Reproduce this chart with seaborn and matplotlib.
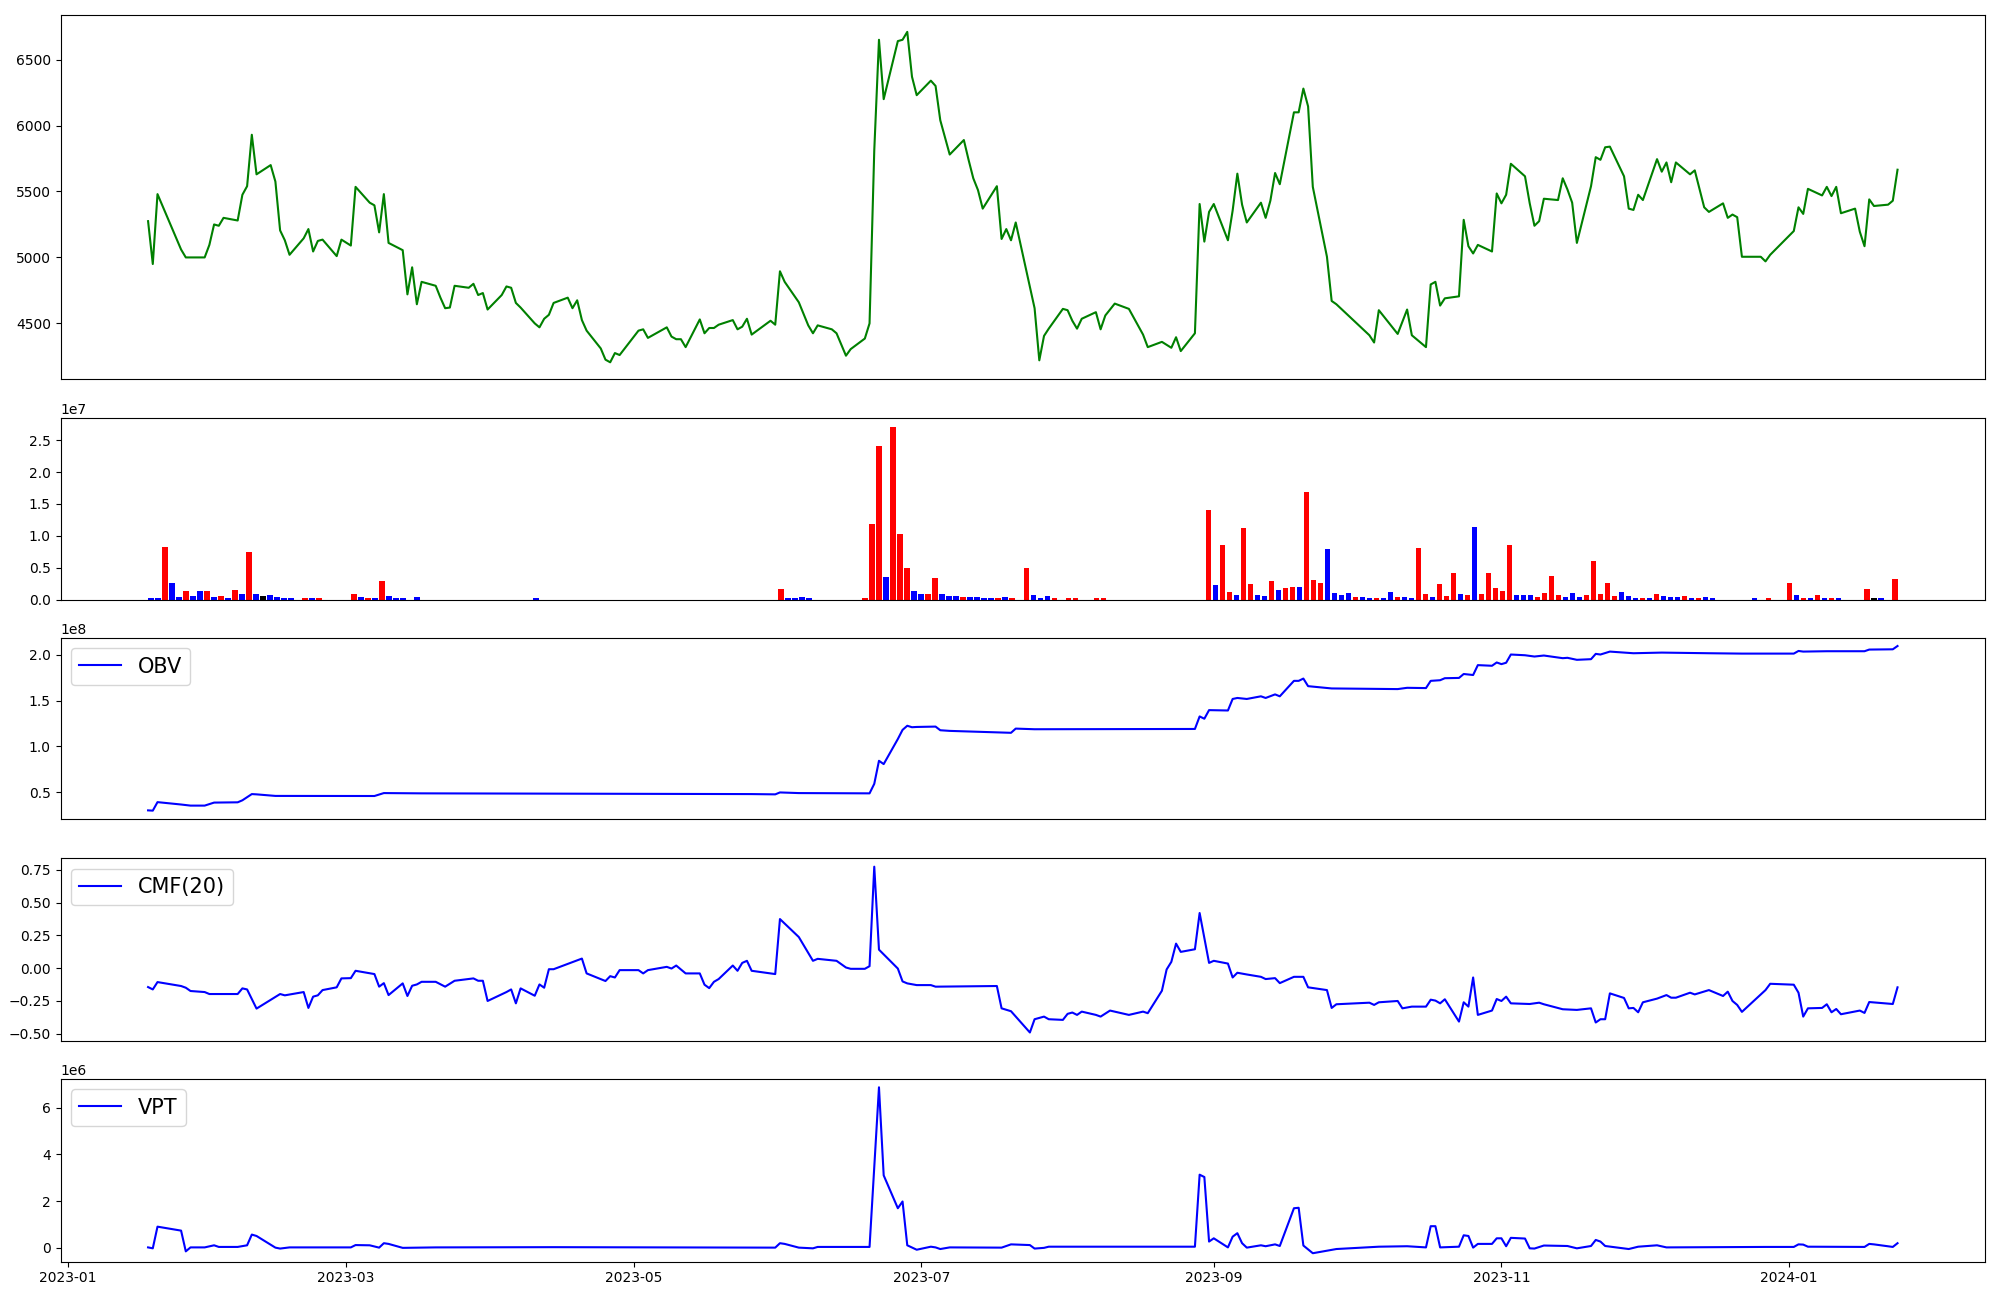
import matplotlib
matplotlib.use("Agg")
import matplotlib.pyplot as plt
import matplotlib.dates as mdates
import seaborn as sns
import pandas as pd
import numpy as np

# ---------------- price (close) ----------------
price_dates = [
    "2023-01-18", "2023-01-19", "2023-01-20", "2023-01-25", "2023-01-26", "2023-01-27", "2023-01-30", "2023-01-31",
    "2023-02-01", "2023-02-02", "2023-02-03", "2023-02-06", "2023-02-07", "2023-02-08", "2023-02-09", "2023-02-10",
    "2023-02-13", "2023-02-14", "2023-02-15", "2023-02-16", "2023-02-17", "2023-02-20", "2023-02-21", "2023-02-22",
    "2023-02-23", "2023-02-24", "2023-02-27", "2023-02-28", "2023-03-02", "2023-03-03", "2023-03-06", "2023-03-07",
    "2023-03-08", "2023-03-09", "2023-03-10", "2023-03-13", "2023-03-14", "2023-03-15", "2023-03-16", "2023-03-17",
    "2023-03-20", "2023-03-21", "2023-03-22", "2023-03-23", "2023-03-24", "2023-03-27", "2023-03-28", "2023-03-29",
    "2023-03-30", "2023-03-31", "2023-04-03", "2023-04-04", "2023-04-05", "2023-04-06", "2023-04-07", "2023-04-10",
    "2023-04-11", "2023-04-12", "2023-04-13", "2023-04-14", "2023-04-17", "2023-04-18", "2023-04-19", "2023-04-20",
    "2023-04-21", "2023-04-24", "2023-04-25", "2023-04-26", "2023-04-27", "2023-04-28", "2023-05-02", "2023-05-03",
    "2023-05-04", "2023-05-08", "2023-05-09", "2023-05-10", "2023-05-11", "2023-05-12", "2023-05-15", "2023-05-16",
    "2023-05-17", "2023-05-18", "2023-05-19", "2023-05-22", "2023-05-23", "2023-05-24", "2023-05-25", "2023-05-26",
    "2023-05-30", "2023-05-31", "2023-06-01", "2023-06-02", "2023-06-05", "2023-06-07", "2023-06-08", "2023-06-09",
    "2023-06-12", "2023-06-13", "2023-06-14", "2023-06-15", "2023-06-16", "2023-06-19", "2023-06-20", "2023-06-21",
    "2023-06-22", "2023-06-23", "2023-06-26", "2023-06-27", "2023-06-28", "2023-06-29", "2023-06-30", "2023-07-03",
    "2023-07-04", "2023-07-05", "2023-07-06", "2023-07-07", "2023-07-10", "2023-07-11", "2023-07-12", "2023-07-13",
    "2023-07-14", "2023-07-17", "2023-07-18", "2023-07-19", "2023-07-20", "2023-07-21", "2023-07-25", "2023-07-26",
    "2023-07-27", "2023-07-28", "2023-07-31", "2023-08-01", "2023-08-02", "2023-08-03", "2023-08-04", "2023-08-07",
    "2023-08-08", "2023-08-09", "2023-08-11", "2023-08-14", "2023-08-17", "2023-08-18", "2023-08-21", "2023-08-23",
    "2023-08-24", "2023-08-25", "2023-08-28", "2023-08-29", "2023-08-30", "2023-08-31", "2023-09-01", "2023-09-04",
    "2023-09-05", "2023-09-06", "2023-09-07", "2023-09-08", "2023-09-11", "2023-09-12", "2023-09-13", "2023-09-14",
    "2023-09-15", "2023-09-18", "2023-09-19", "2023-09-20", "2023-09-21", "2023-09-22", "2023-09-25", "2023-09-26",
    "2023-09-27", "2023-10-04", "2023-10-05", "2023-10-06", "2023-10-10", "2023-10-12", "2023-10-13", "2023-10-16",
    "2023-10-17", "2023-10-18", "2023-10-19", "2023-10-20", "2023-10-23", "2023-10-24", "2023-10-25", "2023-10-26",
    "2023-10-27", "2023-10-30", "2023-10-31", "2023-11-01", "2023-11-02", "2023-11-03", "2023-11-06", "2023-11-07",
    "2023-11-08", "2023-11-09", "2023-11-10", "2023-11-13", "2023-11-14", "2023-11-15", "2023-11-16", "2023-11-17",
    "2023-11-20", "2023-11-21", "2023-11-22", "2023-11-23", "2023-11-24", "2023-11-27", "2023-11-28", "2023-11-29",
    "2023-11-30", "2023-12-01", "2023-12-04", "2023-12-05", "2023-12-06", "2023-12-07", "2023-12-08", "2023-12-11",
    "2023-12-12", "2023-12-14", "2023-12-15", "2023-12-18", "2023-12-19", "2023-12-20", "2023-12-21", "2023-12-22",
    "2023-12-26", "2023-12-27", "2023-12-28", "2024-01-02", "2024-01-03", "2024-01-04", "2024-01-05", "2024-01-08",
    "2024-01-09", "2024-01-10", "2024-01-11", "2024-01-12", "2024-01-15", "2024-01-16", "2024-01-17", "2024-01-18",
    "2024-01-19", "2024-01-22", "2024-01-23", "2024-01-24",
]
price_vals = [
    5275, 4950, 5480, 5060, 5000, 5000, 5000, 5095,
    5250, 5240, 5300, 5280, 5475, 5540, 5930, 5630,
    5700, 5575, 5205, 5130, 5020, 5145, 5215, 5045,
    5125, 5135, 5010, 5135, 5090, 5535, 5415, 5395,
    5190, 5480, 5110, 5055, 4720, 4925, 4645, 4815,
    4785, 4695, 4615, 4620, 4785, 4770, 4800, 4715,
    4730, 4605, 4715, 4780, 4770, 4655, 4620, 4500,
    4470, 4535, 4565, 4655, 4695, 4615, 4675, 4525,
    4445, 4310, 4225, 4205, 4275, 4260, 4445, 4455,
    4390, 4470, 4400, 4380, 4380, 4320, 4530, 4425,
    4465, 4465, 4490, 4525, 4455, 4475, 4535, 4415,
    4520, 4490, 4895, 4815, 4660, 4485, 4425, 4485,
    4455, 4425, 4340, 4255, 4305, 4385, 4500, 5810,
    6650, 6200, 6640, 6650, 6710, 6370, 6230, 6340,
    6300, 6040, 5910, 5780, 5890, 5740, 5600, 5510,
    5370, 5540, 5140, 5215, 5130, 5265, 4615, 4220,
    4405, 4460, 4610, 4600, 4520, 4460, 4535, 4585,
    4455, 4560, 4650, 4610, 4415, 4320, 4360, 4315,
    4395, 4290, 4425, 5405, 5120, 5345, 5405, 5130,
    5355, 5635, 5400, 5265, 5415, 5300, 5430, 5640,
    5555, 6100, 6100, 6280, 6145, 5535, 5005, 4670,
    4645, 4410, 4355, 4600, 4420, 4605, 4410, 4320,
    4795, 4815, 4635, 4690, 4705, 5285, 5085, 5030,
    5095, 5045, 5485, 5410, 5475, 5710, 5615, 5410,
    5240, 5275, 5445, 5435, 5600, 5515, 5415, 5110,
    5540, 5760, 5740, 5835, 5840, 5615, 5370, 5360,
    5475, 5435, 5745, 5650, 5720, 5570, 5720, 5630,
    5660, 5380, 5345, 5410, 5300, 5325, 5305, 5005,
    5005, 4970, 5020, 5200, 5380, 5330, 5520, 5470,
    5535, 5465, 5535, 5335, 5370, 5195, 5085, 5440,
    5390, 5400, 5430, 5665,
]

# ---------------- volume bars (bar index, value, colour) ----------------
n_days = 250
vol_idx = [0, 1, 2, 3, 4, 5, 6, 7, 8, 9, 10, 11, 12, 13, 14, 15, 16, 17, 18, 19, 20, 22, 23, 24,
           29, 30, 31, 32, 33, 34, 35, 36, 38, 55,
           90, 91, 92, 93, 94, 102, 103, 104, 105, 106, 107, 108, 109, 110, 111, 112, 113, 114, 115,
           116, 117, 118, 119, 120, 121, 122, 123, 125, 126, 127, 128, 129, 131, 132, 135, 136,
           151, 152, 153, 154, 155, 156, 157, 158, 159, 160, 161, 162, 163, 164, 165, 166, 167, 168,
           169, 170, 171, 172, 173, 174, 175, 176, 177, 178, 179, 180, 181, 182, 183, 184, 185, 186,
           187, 188, 189, 190, 191, 192, 193, 194, 195, 196, 197, 198, 199, 200, 201, 202, 203, 204,
           205, 206, 207, 208, 209, 210, 211, 212, 213, 214, 215, 216, 217, 218, 219, 220, 221, 222,
           223, 229, 231, 234, 235, 236, 237, 238, 239, 240, 241, 245, 246, 247, 249]
vol_val = [0.30, 0.30, 8.3, 2.55, 0.36, 1.3, 0.52, 1.3, 1.3, 0.36, 0.52, 0.2, 1.46, 0.83, 7.4, 0.83, 0.52, 0.68, 0.36, 0.2, 0.2, 0.2, 0.2, 0.2,
           0.83, 0.36, 0.2, 0.2, 2.86, 0.52, 0.2, 0.2, 0.36, 0.2,
           1.61, 0.2, 0.2, 0.36, 0.2, 0.2, 11.9, 24.1, 3.49, 27.05, 10.35, 4.89, 1.3, 0.83, 0.83, 3.33, 0.83, 0.52, 0.52,
           0.36, 0.36, 0.36, 0.2, 0.2, 0.2, 0.36, 0.2, 4.89, 0.68, 0.2, 0.52, 0.2, 0.2, 0.2, 0.2, 0.2,
           14.1, 2.24, 8.48, 1.14, 0.68, 11.29, 2.39, 0.68, 0.52, 2.86, 1.46, 1.77, 1.93, 1.93, 16.91, 3.02, 2.55, 7.86,
           0.99, 0.68, 0.99, 0.36, 0.36, 0.2, 0.2, 0.2, 1.14, 0.36, 0.36, 0.2, 8.01, 0.83, 0.36, 2.39, 0.52, 4.11,
           0.83, 0.68, 11.45, 0.83, 4.11, 1.77, 1.3, 8.48, 0.68, 0.68, 0.68, 0.36, 0.99, 3.64, 0.68, 0.36, 0.99, 0.36,
           0.68, 5.98, 0.83, 2.55, 0.52, 1.14, 0.52, 0.2, 0.2, 0.2, 0.83, 0.52, 0.36, 0.36, 0.52, 0.2, 0.2, 0.36,
           0.2, 0.2, 0.2, 2.55, 0.68, 0.2, 0.2, 0.68, 0.2, 0.2, 0.2, 1.61, 0.2, 0.2, 3.17]
vol_col = ["blue", "blue", "red", "blue", "blue", "red", "blue", "blue", "red", "blue", "red", "blue", "red", "blue", "red", "blue", "black", "blue", "blue", "blue", "blue", "red", "blue", "red",
           "red", "blue", "red", "blue", "red", "blue", "blue", "blue", "blue", "blue",
           "red", "blue", "blue", "blue", "blue", "red", "red", "red", "blue", "red", "red", "red", "blue", "blue", "red", "red", "blue", "blue", "blue",
           "red", "blue", "blue", "blue", "blue", "red", "blue", "red", "red", "blue", "blue", "blue", "red", "red", "red", "red", "red",
           "red", "blue", "red", "red", "blue", "red", "red", "blue", "blue", "red", "blue", "red", "red", "blue", "red", "red", "red", "blue",
           "blue", "blue", "blue", "red", "blue", "blue", "red", "blue", "blue", "red", "blue", "blue", "red", "red", "blue", "red", "red", "red",
           "blue", "red", "blue", "red", "red", "red", "red", "red", "blue", "blue", "blue", "red", "red", "red", "red", "blue", "blue", "blue",
           "red", "red", "red", "red", "red", "blue", "blue", "blue", "red", "blue", "red", "blue", "blue", "blue", "red", "blue", "red", "blue",
           "blue", "blue", "red", "red", "blue", "red", "blue", "red", "blue", "red", "blue", "red", "black", "blue", "red"]
vol_scale = 1e6  # vol_val is in millions of shares

# ---------------- OBV ----------------
obv_dates = [
    "2023-01-18", "2023-01-19", "2023-01-20", "2023-01-25", "2023-01-27", "2023-01-30", "2023-02-01", "2023-02-06",
    "2023-02-07", "2023-02-09", "2023-02-10", "2023-02-14", "2023-03-07", "2023-03-09", "2023-03-17", "2023-05-26",
    "2023-05-31", "2023-06-01", "2023-06-05", "2023-06-20", "2023-06-21", "2023-06-22", "2023-06-23", "2023-06-26",
    "2023-06-27", "2023-06-28", "2023-06-29", "2023-06-30", "2023-07-04", "2023-07-05", "2023-07-07", "2023-07-20",
    "2023-07-21", "2023-07-25", "2023-08-28", "2023-08-29", "2023-08-30", "2023-08-31", "2023-09-04", "2023-09-05",
    "2023-09-06", "2023-09-08", "2023-09-11", "2023-09-12", "2023-09-14", "2023-09-15", "2023-09-18", "2023-09-19",
    "2023-09-20", "2023-09-21", "2023-09-26", "2023-10-10", "2023-10-12", "2023-10-16", "2023-10-17", "2023-10-19",
    "2023-10-20", "2023-10-23", "2023-10-24", "2023-10-26", "2023-10-27", "2023-10-30", "2023-10-31", "2023-11-01",
    "2023-11-02", "2023-11-03", "2023-11-06", "2023-11-08", "2023-11-10", "2023-11-14", "2023-11-15", "2023-11-17",
    "2023-11-20", "2023-11-21", "2023-11-22", "2023-11-24", "2023-11-29", "2023-12-05", "2023-12-15", "2023-12-22",
    "2024-01-02", "2024-01-03", "2024-01-04", "2024-01-09", "2024-01-17", "2024-01-18", "2024-01-23", "2024-01-24",
]
obv_vals = [
    0.300, 0.297, 0.390, 0.364, 0.352, 0.352, 0.385, 0.388,
    0.410, 0.478, 0.475, 0.458, 0.457, 0.489, 0.486, 0.478,
    0.475, 0.496, 0.489, 0.486, 0.590, 0.842, 0.806, 1.080,
    1.180, 1.225, 1.209, 1.212, 1.216, 1.176, 1.169, 1.148,
    1.194, 1.187, 1.190, 1.327, 1.302, 1.396, 1.392, 1.518,
    1.529, 1.518, 1.547, 1.529, 1.568, 1.547, 1.716, 1.716,
    1.741, 1.658, 1.633, 1.626, 1.640, 1.637, 1.716, 1.723,
    1.745, 1.748, 1.791, 1.780, 1.888, 1.881, 1.917, 1.899,
    1.914, 2.004, 1.996, 1.982, 1.993, 1.964, 1.968, 1.946,
    1.953, 2.011, 2.004, 2.036, 2.018, 2.025, 2.018, 2.014,
    2.014, 2.043, 2.036, 2.040, 2.040, 2.058, 2.061, 2.097,
]
obv_scale = 1e8

# ---------------- CMF(20) ----------------
cmf_dates = [
    "2023-01-18", "2023-01-19", "2023-01-20", "2023-01-25", "2023-01-26", "2023-01-27", "2023-01-30", "2023-01-31",
    "2023-02-06", "2023-02-07", "2023-02-08", "2023-02-10", "2023-02-15", "2023-02-16", "2023-02-20", "2023-02-21",
    "2023-02-22", "2023-02-23", "2023-02-24", "2023-02-27", "2023-02-28", "2023-03-02", "2023-03-03", "2023-03-07",
    "2023-03-08", "2023-03-09", "2023-03-10", "2023-03-13", "2023-03-14", "2023-03-15", "2023-03-16", "2023-03-17",
    "2023-03-20", "2023-03-22", "2023-03-24", "2023-03-28", "2023-03-29", "2023-03-30", "2023-03-31", "2023-04-04",
    "2023-04-05", "2023-04-06", "2023-04-07", "2023-04-10", "2023-04-11", "2023-04-12", "2023-04-13", "2023-04-14",
    "2023-04-20", "2023-04-21", "2023-04-25", "2023-04-26", "2023-04-27", "2023-04-28", "2023-05-02", "2023-05-03",
    "2023-05-04", "2023-05-08", "2023-05-09", "2023-05-10", "2023-05-12", "2023-05-15", "2023-05-16", "2023-05-17",
    "2023-05-18", "2023-05-19", "2023-05-22", "2023-05-23", "2023-05-24", "2023-05-25", "2023-05-26", "2023-05-31",
    "2023-06-01", "2023-06-05", "2023-06-08", "2023-06-09", "2023-06-13", "2023-06-15", "2023-06-16", "2023-06-19",
    "2023-06-20", "2023-06-21", "2023-06-22", "2023-06-26", "2023-06-27", "2023-06-28", "2023-06-30", "2023-07-03",
    "2023-07-04", "2023-07-17", "2023-07-18", "2023-07-20", "2023-07-24", "2023-07-25", "2023-07-27", "2023-07-28",
    "2023-07-31", "2023-08-01", "2023-08-02", "2023-08-03", "2023-08-04", "2023-08-07", "2023-08-08", "2023-08-10",
    "2023-08-14", "2023-08-17", "2023-08-18", "2023-08-21", "2023-08-22", "2023-08-23", "2023-08-24", "2023-08-25",
    "2023-08-28", "2023-08-29", "2023-08-31", "2023-09-01", "2023-09-04", "2023-09-05", "2023-09-06", "2023-09-08",
    "2023-09-11", "2023-09-12", "2023-09-14", "2023-09-15", "2023-09-18", "2023-09-20", "2023-09-21", "2023-09-25",
    "2023-09-26", "2023-09-27", "2023-10-04", "2023-10-05", "2023-10-06", "2023-10-10", "2023-10-11", "2023-10-13",
    "2023-10-16", "2023-10-17", "2023-10-18", "2023-10-19", "2023-10-20", "2023-10-23", "2023-10-24", "2023-10-25",
    "2023-10-26", "2023-10-27", "2023-10-30", "2023-10-31", "2023-11-01", "2023-11-02", "2023-11-03", "2023-11-07",
    "2023-11-09", "2023-11-10", "2023-11-14", "2023-11-17", "2023-11-20", "2023-11-21", "2023-11-22", "2023-11-23",
    "2023-11-24", "2023-11-27", "2023-11-28", "2023-11-29", "2023-11-30", "2023-12-01", "2023-12-04", "2023-12-06",
    "2023-12-07", "2023-12-08", "2023-12-11", "2023-12-12", "2023-12-15", "2023-12-18", "2023-12-19", "2023-12-20",
    "2023-12-21", "2023-12-22", "2023-12-27", "2023-12-28", "2024-01-02", "2024-01-03", "2024-01-04", "2024-01-05",
    "2024-01-08", "2024-01-09", "2024-01-10", "2024-01-11", "2024-01-12", "2024-01-16", "2024-01-17", "2024-01-18",
    "2024-01-23", "2024-01-24",
]
cmf_vals = [
    -0.144, -0.162, -0.106, -0.136, -0.149, -0.174, -0.182, -0.197,
    -0.197, -0.154, -0.162, -0.308, -0.197, -0.207, -0.182, -0.303,
    -0.217, -0.207, -0.167, -0.146, -0.078, -0.076, -0.020, -0.045,
    -0.141, -0.114, -0.205, -0.116, -0.212, -0.134, -0.124, -0.104,
    -0.104, -0.141, -0.096, -0.078, -0.096, -0.096, -0.250, -0.182,
    -0.162, -0.268, -0.154, -0.210, -0.124, -0.149, -0.008, -0.008,
    0.073, -0.040, -0.098, -0.061, -0.071, -0.015, -0.015, -0.040,
    -0.015, 0.010, -0.003, 0.020, -0.040, -0.040, -0.126, -0.152,
    -0.104, -0.083, 0.020, -0.020, 0.040, 0.056, -0.020, -0.045,
    0.374, 0.237, 0.056, 0.071, 0.056, 0.005, -0.005, -0.005,
    0.015, 0.773, 0.141, -0.003, -0.101, -0.116, -0.129, -0.129,
    -0.141, -0.136, -0.306, -0.328, -0.490, -0.389, -0.369, -0.389,
    -0.394, -0.348, -0.338, -0.356, -0.331, -0.356, -0.369, -0.323,
    -0.356, -0.331, -0.343, -0.172, -0.010, 0.048, 0.187, 0.124,
    0.144, 0.420, 0.040, 0.056, 0.035, -0.071, -0.035, -0.048,
    -0.066, -0.083, -0.076, -0.114, -0.066, -0.066, -0.146, -0.167,
    -0.303, -0.275, -0.263, -0.280, -0.260, -0.250, -0.306, -0.293,
    -0.293, -0.240, -0.247, -0.268, -0.237, -0.407, -0.260, -0.293,
    -0.071, -0.356, -0.323, -0.235, -0.250, -0.217, -0.268, -0.273,
    -0.263, -0.275, -0.313, -0.318, -0.306, -0.414, -0.389, -0.389,
    -0.192, -0.227, -0.306, -0.303, -0.336, -0.260, -0.232, -0.205,
    -0.225, -0.225, -0.187, -0.200, -0.167, -0.212, -0.179, -0.250,
    -0.280, -0.333, -0.167, -0.119, -0.126, -0.187, -0.369, -0.306,
    -0.303, -0.275, -0.336, -0.311, -0.351, -0.323, -0.341, -0.258,
    -0.273, -0.146,
]

# ---------------- VPT ----------------
vpt_dates = [
    "2023-01-18", "2023-01-19", "2023-01-20", "2023-01-25", "2023-01-26", "2023-01-27", "2023-01-30", "2023-02-01",
    "2023-02-02", "2023-02-06", "2023-02-08", "2023-02-09", "2023-02-10", "2023-02-14", "2023-02-15", "2023-02-17",
    "2023-03-02", "2023-03-03", "2023-03-06", "2023-03-08", "2023-03-09", "2023-03-10", "2023-03-13", "2023-03-20",
    "2023-04-14", "2023-05-31", "2023-06-01", "2023-06-02", "2023-06-05", "2023-06-08", "2023-06-09", "2023-06-20",
    "2023-06-22", "2023-06-23", "2023-06-26", "2023-06-27", "2023-06-28", "2023-06-30", "2023-07-03", "2023-07-04",
    "2023-07-05", "2023-07-07", "2023-07-18", "2023-07-20", "2023-07-24", "2023-07-25", "2023-07-27", "2023-07-28",
    "2023-08-28", "2023-08-29", "2023-08-30", "2023-08-31", "2023-09-01", "2023-09-04", "2023-09-05", "2023-09-06",
    "2023-09-07", "2023-09-08", "2023-09-11", "2023-09-12", "2023-09-14", "2023-09-15", "2023-09-18", "2023-09-19",
    "2023-09-20", "2023-09-22", "2023-09-27", "2023-10-06", "2023-10-12", "2023-10-16", "2023-10-17", "2023-10-18",
    "2023-10-19", "2023-10-23", "2023-10-24", "2023-10-25", "2023-10-26", "2023-10-27", "2023-10-30", "2023-10-31",
    "2023-11-01", "2023-11-02", "2023-11-03", "2023-11-06", "2023-11-07", "2023-11-08", "2023-11-10", "2023-11-15",
    "2023-11-17", "2023-11-20", "2023-11-21", "2023-11-22", "2023-11-23", "2023-11-28", "2023-11-30", "2023-12-04",
    "2023-12-06", "2023-12-27", "2024-01-02", "2024-01-03", "2024-01-04", "2024-01-05", "2024-01-17", "2024-01-18",
    "2024-01-19", "2024-01-23", "2024-01-24",
]
vpt_vals = [
    0.01, -0.03, 0.90, 0.73, -0.16, 0.01, 0.01, 0.10,
    0.03, 0.03, 0.10, 0.56, 0.50, 0.00, -0.04, 0.01,
    0.01, 0.11, 0.10, 0.00, 0.19, 0.16, -0.01, 0.01,
    0.02, 0.00, 0.19, 0.16, 0.00, -0.03, 0.03, 0.03,
    6.88, 3.10, 1.69, 1.98, 0.10, -0.09, 0.04, 0.01,
    -0.06, 0.01, 0.00, 0.14, 0.11, -0.04, -0.01, 0.04,
    0.04, 3.13, 3.03, 0.26, 0.40, 0.01, 0.47, 0.62,
    0.19, 0.00, 0.10, 0.06, 0.14, 0.07, 1.69, 1.71,
    0.09, -0.24, -0.06, 0.04, 0.06, 0.01, 0.92, 0.92,
    0.01, 0.04, 0.53, 0.50, 0.00, 0.16, 0.16, 0.40,
    0.40, 0.06, 0.42, 0.39, -0.03, -0.04, 0.09, 0.07,
    -0.03, 0.07, 0.33, 0.26, 0.07, -0.06, 0.04, 0.10,
    0.01, 0.03, 0.03, 0.14, 0.13, 0.04, 0.03, 0.16,
    0.14, 0.03, 0.19,
]
vpt_scale = 1e6

# ---------------- build frames ----------------
df_price = pd.DataFrame({"date": pd.to_datetime(price_dates), "close": price_vals})
df_obv = pd.DataFrame({"date": pd.to_datetime(obv_dates), "OBV": np.array(obv_vals) * obv_scale})
df_cmf = pd.DataFrame({"date": pd.to_datetime(cmf_dates), "CMF": cmf_vals})
df_vpt = pd.DataFrame({"date": pd.to_datetime(vpt_dates), "VPT": np.array(vpt_vals) * vpt_scale})

vol_full = np.zeros(n_days)
col_full = ["blue"] * n_days
for i, v, c in zip(vol_idx, vol_val, vol_col):
    vol_full[i] = v * vol_scale
    col_full[i] = c
df_vol = pd.DataFrame({"idx": np.arange(n_days), "volume": vol_full, "col": col_full})

# ---------------- figure ----------------
plt.rcParams["font.family"] = ["DejaVu Sans"]
fig = plt.figure(figsize=(20, 13), dpi=100)
L, W = 0.0303, 0.9622
ax_p = fig.add_axes([L, 0.7086, W, 0.2796])
ax_v = fig.add_axes([L, 0.5388, W, 0.1393])
ax_o = fig.add_axes([L, 0.3701, W, 0.1393], sharex=ax_p)
ax_c = fig.add_axes([L, 0.1994, W, 0.1403], sharex=ax_p)
ax_t = fig.add_axes([L, 0.0296, W, 0.1404], sharex=ax_p)

sns.lineplot(data=df_price, x="date", y="close", ax=ax_p, color="green", linewidth=1.5)

sns.barplot(data=df_vol, x="idx", y="volume", hue="col",
            palette={"red": "red", "blue": "blue", "black": "black"},
            native_scale=True, dodge=False, saturation=1, errorbar=None,
            legend=False, width=0.8, linewidth=0, ax=ax_v)
span = (n_days - 1) + 0.8
ax_v.set_xlim(-0.4 - 0.05 * span, n_days - 1 + 0.4 + 0.05 * span)
ax_v.set_ylim(0, max(vol_full) * 1.05)

sns.lineplot(data=df_obv, x="date", y="OBV", ax=ax_o, color="blue", linewidth=1.5, label="OBV")
sns.lineplot(data=df_cmf, x="date", y="CMF", ax=ax_c, color="blue", linewidth=1.5, label="CMF(20)")
sns.lineplot(data=df_vpt, x="date", y="VPT", ax=ax_t, color="blue", linewidth=1.5, label="VPT")

for ax in (ax_o, ax_c, ax_t):
    ax.legend(loc="upper left", fontsize=15)

for ax in (ax_p, ax_v, ax_o, ax_c, ax_t):
    ax.set_xlabel("")
    ax.set_ylabel("")
    ax.grid(False)

for ax in (ax_p, ax_v, ax_o, ax_c):
    ax.tick_params(axis="x", which="both", bottom=False, labelbottom=False)

ax_t.xaxis.set_major_locator(mdates.MonthLocator(bymonth=[1, 3, 5, 7, 9, 11]))
ax_t.xaxis.set_major_formatter(mdates.DateFormatter("%Y-%m"))
ax_t.tick_params(axis="x", which="both", bottom=True, labelbottom=True)

d0 = df_price["date"].min()
d1 = df_price["date"].max()
pad = (d1 - d0) * 0.05
ax_p.set_xlim(d0 - pad, d1 + pad)

fig.savefig("out.png", dpi=100)
